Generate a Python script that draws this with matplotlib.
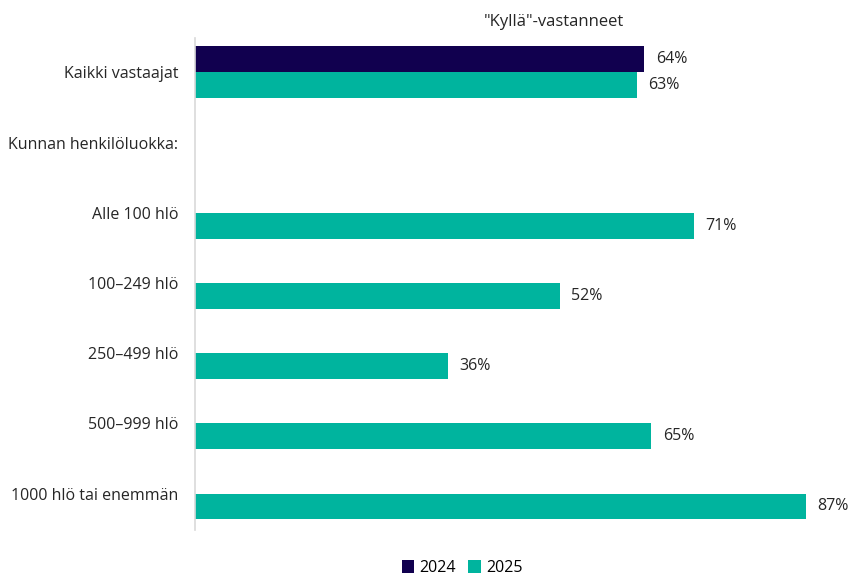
import matplotlib
matplotlib.use("Agg")
import matplotlib.pyplot as plt
import numpy as np

plt.rcParams['font.family'] = ['Open Sans', 'DejaVu Sans']

categories = ["Kaikki vastaajat", "Kunnan henkilöluokka:", "Alle 100 hlö", "100–249 hlö",
              "250–499 hlö", "500–999 hlö", "1000 hlö tai enemmän"]
values_2024 = [64, None, None, None, None, None, None]
values_2025 = [63, None, 71, 52, 36, 65, 87]
series_names = ["2024", "2025"]
colors = ["#11004f", "#00b49e"]
title = '"Kyllä"-vastanneet'

fig = plt.figure(figsize=(8.51, 5.76), dpi=100)
ax = fig.add_axes([195/851, 46/576, 646/851, 492/576])

y = np.arange(len(categories))
h = 0.37
for vals, off, col, name in [(values_2024, -h/2, colors[0], series_names[0]),
                             (values_2025, h/2, colors[1], series_names[1])]:
    yy = [yi + off for yi, v in zip(y, vals) if v is not None]
    vv = [v for v in vals if v is not None]
    ax.barh(yy, vv, height=h, color=col, label=name)
    for yi, v in zip(yy, vv):
        ax.text(v + 1.6, yi, f"{v}%", va='center', ha='left', fontsize=11.5, color='#262626')

ax.set_ylim(6.52, -0.49)
ax.set_xlim(0, 92)
ax.set_yticks(y)
ax.set_yticklabels(categories, fontsize=11.5, color='#262626')
ax.tick_params(axis='y', length=0, pad=12)
ax.set_xticks([])
for s in ['top', 'right', 'bottom']:
    ax.spines[s].set_visible(False)
ax.spines['left'].set_color('#d9d9d9')
ax.spines['left'].set_linewidth(1.2)

fig.text(554/851, 1 - 22/576, title, ha='center', va='center', fontsize=12, color='#262626')

handles, labels = ax.get_legend_handles_labels()
fig.legend(handles, labels, loc='center', bbox_to_anchor=(462/851, 1 - 568/576), ncol=2,
           frameon=False, fontsize=11.5, handlelength=0.8, handleheight=0.8,
           columnspacing=0.8, handletextpad=0.3)

fig.savefig("out.png", dpi=100)
